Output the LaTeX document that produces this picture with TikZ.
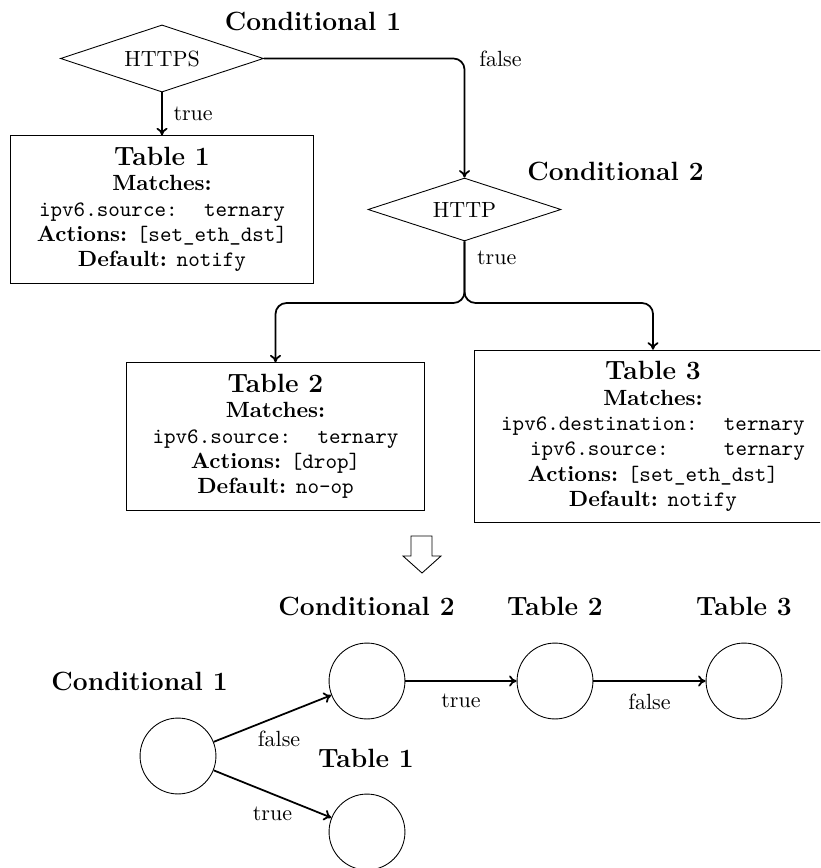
\documentclass[tikz,border=0pt]{standalone}
\usepackage{fontspec}
\usetikzlibrary{shapes.geometric, arrows.meta}

\tikzset{
  heading/.style={font=\large\bfseries, inner sep=0pt, anchor=base},
  decision/.style={draw, thin, diamond, aspect=3, inner sep=1pt},
  tablebox/.style={draw, thin, align=center, inner xsep=12pt, inner ysep=5.2pt,
                   font=\fontsize{10}{11.5}\selectfont},
  flow/.style={-{To[length=3.4pt, width=5pt]}, thick, rounded corners=5pt},
  state/.style={draw, thin, circle, minimum size=34.5pt, inner sep=0pt},
}

\begin{document}
\begin{tikzpicture}[x=0.4545pt, y=-0.4545pt]
\useasboundingbox (0,0) rectangle (820,868);
\clip (0,0) rectangle (820,868);

% ---------- control flow graph ----------
\node[heading] (hc1) at (313,31) {Conditional 1};
\node[decision, minimum width=92.3pt, minimum height=30.5pt] (c1) at (162,58.5) {HTTPS};

\node[heading] (hc2) at (615.5,180) {Conditional 2};
\node[decision, minimum width=87.7pt, minimum height=28.6pt] (c2) at (464.5,209.5) {HTTP};

\node[tablebox] (t1) at (162,209.5) {%
  {\large\bfseries Table 1}\\
  \textbf{Matches:}\\
  \texttt{ipv6.source:}\hspace{12pt}\texttt{ternary}\\
  \textbf{Actions:} \texttt{[set\_eth\_dst]}\\
  \textbf{Default:} \texttt{notify}};

\node[tablebox] (t2) at (275.5,436.5) {%
  {\large\bfseries Table 2}\\
  \textbf{Matches:}\\
  \texttt{ipv6.source:}\hspace{12pt}\texttt{ternary}\\
  \textbf{Actions:} \texttt{[drop]}\\
  \textbf{Default:} \texttt{no-op}};

\node[tablebox] (t3) at (653,436.5) {%
  {\large\bfseries Table 3}\\
  \textbf{Matches:}\\
  \texttt{ipv6.destination:}\hspace{12pt}\texttt{ternary}\\
  \makebox[89.25pt]{\texttt{ipv6.source:}}\hspace{12pt}\texttt{ternary}\\
  \textbf{Actions:} \texttt{[set\_eth\_dst]}\\
  \textbf{Default:} \texttt{notify}};

\coordinate (jn) at (464.5,303);

\draw[flow] (c1.south) -- node[right=1.5pt] {true} (t1.north);
\draw[flow] (c1.east) -| node[pos=0.5, right=3pt] {false} (c2.north);
\draw[flow] (c2.south) -- node[pos=0.27, right=2pt] {true} (jn) -| (t2.north);
\draw[flow] (c2.south) -- (jn) -| (t3.north);

% ---------- hollow transformation arrow ----------
\draw[thin] (411,536) -- (411,556) -- (403,556) -- (422,573)
            -- (441,556) -- (432,556) -- (432,536) -- cycle;

% ---------- resulting graph ----------
\node[state] (g1) at (178,756) {};
\node[state] (g2) at (367,681) {};
\node[state] (g3) at (555,681) {};
\node[state] (g4) at (744,681) {};
\node[state] (g5) at (367,832) {};

\node[heading] (lc1) at (139.6,690) {Conditional 1};
\node[heading] (lc2) at (366.6,615) {Conditional 2};
\node[heading] (lt2) at (555,615) {Table 2};
\node[heading] (lt3) at (744,615) {Table 3};
\node[heading] (lt1) at (366,767) {Table 1};

\draw[flow] (g1) -- node[below=2pt, xshift=3pt] {false} (g2);
\draw[flow] (g1) -- node[below=2pt] {true} (g5);
\draw[flow] (g2) -- node[below=2pt] {true} (g3);
\draw[flow] (g3) -- node[below=2pt] {false} (g4);
\end{tikzpicture}
\end{document}
